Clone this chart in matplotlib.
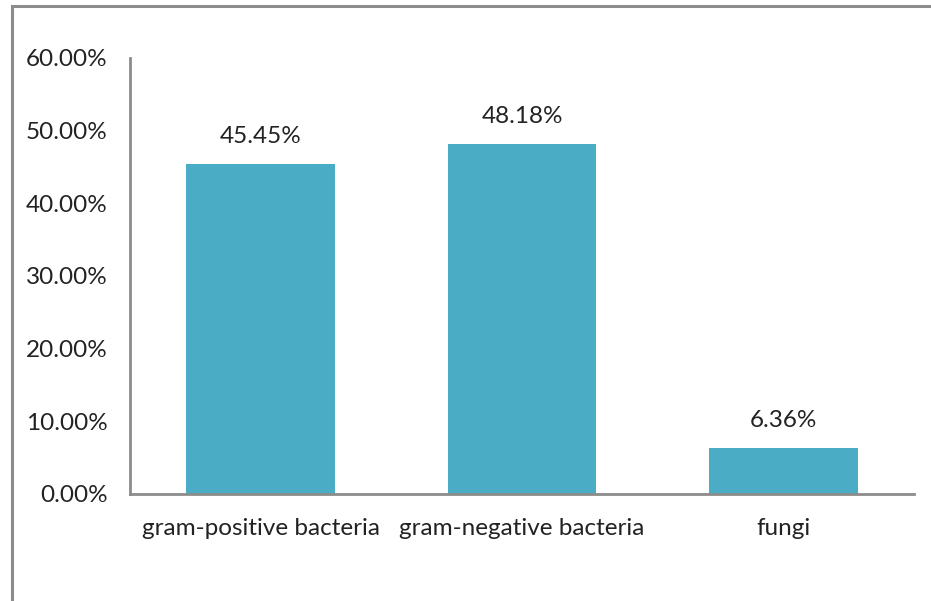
import matplotlib
matplotlib.use("Agg")
import matplotlib.pyplot as plt
from matplotlib.patches import Rectangle
from matplotlib.ticker import FuncFormatter, MultipleLocator

categories = ["gram-positive bacteria", "gram-negative bacteria", "fungi"]
values = [45.45, 48.18, 6.36]

plt.rcParams["font.family"] = ["Lato", "DejaVu Sans"]

W, H = 931, 601
fig = plt.figure(figsize=(W / 100, H / 100), dpi=100)
fig.patch.set_facecolor("white")

# outer chart frame
fig.patches.append(Rectangle((12 / W, -0.1), 1.2, (H - 6) / H + 0.1,
                             transform=fig.transFigure, fill=False,
                             edgecolor="#8c8c8c", linewidth=2.2))

ax = fig.add_axes([130 / W, (H - 494) / H, (914 - 130) / W, (494 - 58) / H])
x = list(range(len(categories)))
bars = ax.bar(x, values, width=0.57, color="#4BACC6")

ax.set_xlim(-0.5, len(categories) - 0.5)
ax.set_ylim(0, 60)
ax.yaxis.set_major_locator(MultipleLocator(10))
ax.yaxis.set_major_formatter(FuncFormatter(lambda v, p: f"{v:.2f}%"))
ax.set_xticks(x)
ax.set_xticklabels(categories)

for s in ["top", "right"]:
    ax.spines[s].set_visible(False)
for s in ["left", "bottom"]:
    ax.spines[s].set_color("#8c8c8c")
    ax.spines[s].set_linewidth(2)

ax.tick_params(axis="both", length=0, labelsize=17.5, colors="#222222")
ax.tick_params(axis="y", pad=16)
ax.tick_params(axis="x", pad=17)

for b, v in zip(bars, values):
    ax.annotate(f"{v:.2f}%", (b.get_x() + b.get_width() / 2, v),
                xytext=(0, 12), textcoords="offset points",
                ha="center", va="bottom", fontsize=17.5, color="#222222")

fig.savefig("out.png", dpi=100, facecolor="white")
